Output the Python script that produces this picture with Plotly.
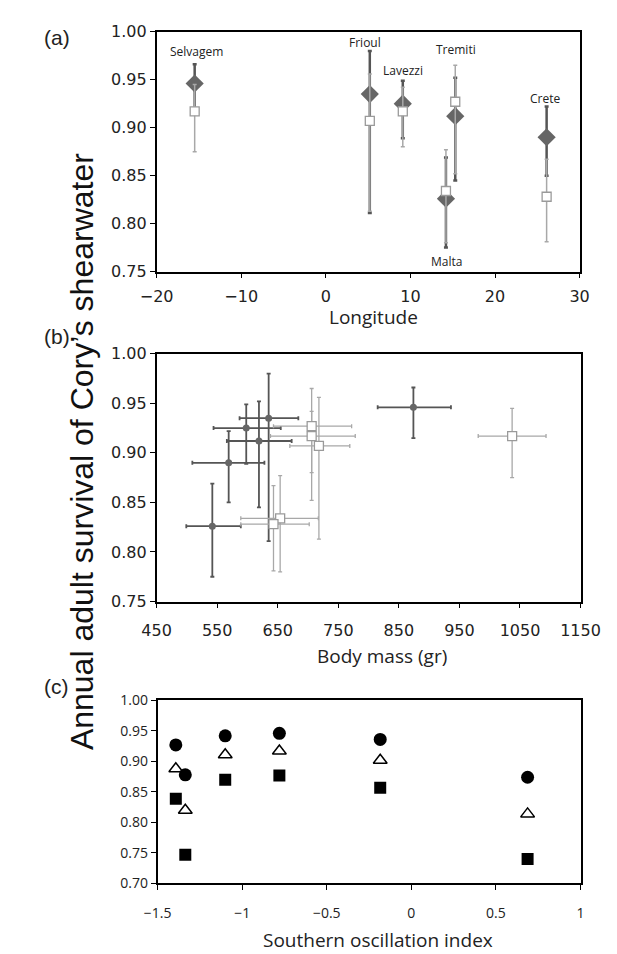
import plotly.graph_objects as go

W, H = 617, 954

# (a) survival by colony / longitude
SITES = ["Selvagem", "Frioul", "Lavezzi", "Tremiti", "Malta", "Crete"]
LONGITUDE = [-15.5, 5.2, 9.1, 15.3, 14.2, 26.1]
LABEL_X = [-15.3, 4.6, 9.1, 15.4, 14.3, 25.9]
LABEL_Y = [0.979, 0.989, 0.960, 0.981, 0.760, 0.930]

SURV_DARK = [0.946, 0.935, 0.925, 0.912, 0.826, 0.890]
SURV_DARK_LO = [0.915, 0.811, 0.889, 0.845, 0.775, 0.850]
SURV_DARK_HI = [0.966, 0.980, 0.949, 0.952, 0.869, 0.922]
SURV_OPEN = [0.917, 0.907, 0.917, 0.927, 0.834, 0.828]
SURV_OPEN_LO = [0.875, 0.813, 0.880, 0.852, 0.780, 0.781]
SURV_OPEN_HI = [0.945, 0.956, 0.942, 0.965, 0.877, 0.867]

# (b) body mass (gr)
MASS_DARK = [874, 635, 598, 619, 542, 569]
MASS_DARK_LO = [815, 587, 544, 566, 499, 509]
MASS_DARK_HI = [936, 684, 655, 673, 589, 628]
MASS_OPEN = [1037, 718, 706, 706, 654, 643]
MASS_OPEN_LO = [981, 670, 638, 643, 589, 589]
MASS_OPEN_HI = [1093, 769, 778, 772, 717, 702]

# (c) southern oscillation index
SOI = [-1.392, -1.336, -1.100, -0.780, -0.184, 0.687]
SURV_CIRCLE = [0.927, 0.878, 0.942, 0.946, 0.936, 0.874]
SURV_TRIANGLE = [0.888, 0.820, 0.911, 0.917, 0.902, 0.814]
SURV_SQUARE = [0.839, 0.747, 0.870, 0.877, 0.857, 0.740]

DARK = "#666666"
DARK_BAR = "#555555"
LIGHT = "#9a9a9a"
LIGHT_BAR = "#a8a8a8"

TICK_FONT = dict(family="DejaVu Sans", size=16, color="#222222")
CAL_FONT = "Open Sans"


def px_x(p):
    return p / W


def px_y(p):
    return 1 - p / H


def err(v, lo, hi):
    return dict(type="data", symmetric=False,
                array=[h - a for a, h in zip(v, hi)],
                arrayminus=[a - l for a, l in zip(v, lo)])


fig = go.Figure()

# panel (a)
fig.add_trace(go.Scatter(
    x=LONGITUDE, y=SURV_DARK, mode="markers", xaxis="x", yaxis="y",
    marker=dict(symbol="diamond", size=14, color=DARK),
    error_y=dict(err(SURV_DARK, SURV_DARK_LO, SURV_DARK_HI),
                 color=DARK_BAR, thickness=2.5, width=2),
))
fig.add_trace(go.Scatter(
    x=LONGITUDE, y=SURV_OPEN, mode="markers", xaxis="x", yaxis="y",
    marker=dict(symbol="square", size=9, color="white",
                line=dict(color=LIGHT, width=1.3)),
    error_y=dict(err(SURV_OPEN, SURV_OPEN_LO, SURV_OPEN_HI),
                 color=LIGHT_BAR, thickness=1.5, width=2),
))

# panel (b)
fig.add_trace(go.Scatter(
    x=MASS_DARK, y=SURV_DARK, mode="markers", xaxis="x2", yaxis="y2",
    marker=dict(symbol="circle", size=7, color=DARK),
    error_y=dict(err(SURV_DARK, SURV_DARK_LO, SURV_DARK_HI),
                 color=DARK_BAR, thickness=1.8, width=2),
    error_x=dict(err(MASS_DARK, MASS_DARK_LO, MASS_DARK_HI),
                 color=DARK_BAR, thickness=1.8, width=2),
))
fig.add_trace(go.Scatter(
    x=MASS_OPEN, y=SURV_OPEN, mode="markers", xaxis="x2", yaxis="y2",
    marker=dict(symbol="square", size=9, color="white",
                line=dict(color=LIGHT, width=1.3)),
    error_y=dict(err(SURV_OPEN, SURV_OPEN_LO, SURV_OPEN_HI),
                 color=LIGHT_BAR, thickness=1.3, width=2),
    error_x=dict(err(MASS_OPEN, MASS_OPEN_LO, MASS_OPEN_HI),
                 color=LIGHT_BAR, thickness=1.3, width=2),
))

# panel (c)
fig.add_trace(go.Scatter(
    x=SOI, y=SURV_CIRCLE, mode="markers", xaxis="x3", yaxis="y3",
    marker=dict(symbol="circle", size=13, color="black"),
))
fig.add_trace(go.Scatter(
    x=SOI, y=SURV_TRIANGLE, mode="markers", xaxis="x3", yaxis="y3",
    marker=dict(symbol="triangle-up-open", size=12, color="black",
                line=dict(width=1.5)),
))
fig.add_trace(go.Scatter(
    x=SOI, y=SURV_SQUARE, mode="markers", xaxis="x3", yaxis="y3",
    marker=dict(symbol="square", size=12, color="black"),
))

axis_common = dict(showline=True, linecolor="black", linewidth=1.5,
                   mirror=True, showgrid=False, zeroline=False,
                   ticks="outside", ticklen=5, tickcolor="black")


def note(txt, x, y, font, **kw):
    return dict(x=x, y=y, text=txt, showarrow=False, font=font,
                xanchor="center", yanchor="middle", **kw)


annotations = []
for name, x, y in zip(SITES, LABEL_X, LABEL_Y):
    annotations.append(note(name, x, y,
                            dict(family=CAL_FONT, size=12, color="#222222"),
                            xref="x", yref="y"))

for txt, xp, yp in [("(a)", 34, 20), ("(b)", 34, 325), ("(c)", 34, 683)]:
    annotations.append(note(txt, px_x(xp), px_y(yp),
                            dict(family="Liberation Sans", size=21,
                                 color="#222222"),
                            xref="paper", yref="paper"))

for txt, xp, yp in [("Longitude", 371, 305), ("Body mass (gr)", 380, 652),
                    ("Southern oscillation index", 375, 942)]:
    annotations.append(note(txt, px_x(xp), px_y(yp),
                            dict(family=CAL_FONT, size=19, color="#222222"),
                            xref="paper", yref="paper"))

annotations.append(note("Annual adult survival of Cory\u2019s shearwater",
                        px_x(60), px_y(443),
                        dict(family="Liberation Sans", size=32,
                             color="#111111"),
                        xref="paper", yref="paper", textangle=-90))

fig.update_layout(
    width=W, height=H,
    margin=dict(l=0, r=0, t=0, b=0),
    paper_bgcolor="white", plot_bgcolor="white",
    showlegend=False,
    xaxis=dict(axis_common, domain=[px_x(140), px_x(590)], range=[-20, 30],
               dtick=10, anchor="y", tickfont=TICK_FONT,
               ticklabelstandoff=4),
    yaxis=dict(axis_common, domain=[px_y(259), px_y(14)], range=[0.75, 1.0],
               dtick=0.05, tickformat=".2f", anchor="x", tickfont=TICK_FONT),
    xaxis2=dict(axis_common, domain=[px_x(140), px_x(591)],
                range=[450, 1150], tick0=450, dtick=100, anchor="y2",
                tickfont=TICK_FONT, ticklabelstandoff=9),
    yaxis2=dict(axis_common, domain=[px_y(596), px_y(343)],
                range=[0.75, 1.0], dtick=0.05, tickformat=".2f",
                anchor="x2", tickfont=TICK_FONT),
    xaxis3=dict(axis_common, domain=[px_x(141), px_x(591)], range=[-1.5, 1],
                dtick=0.5, anchor="y3",
                tickfont=dict(family=CAL_FONT, size=14, color="#222222"),
                ticklabelstandoff=11),
    yaxis3=dict(axis_common, domain=[px_y(884), px_y(697)],
                range=[0.70, 1.0], dtick=0.05, tickformat=".2f",
                anchor="x3",
                tickfont=dict(family=CAL_FONT, size=14, color="#222222")),
    annotations=annotations,
)

fig.write_html("out.html")
